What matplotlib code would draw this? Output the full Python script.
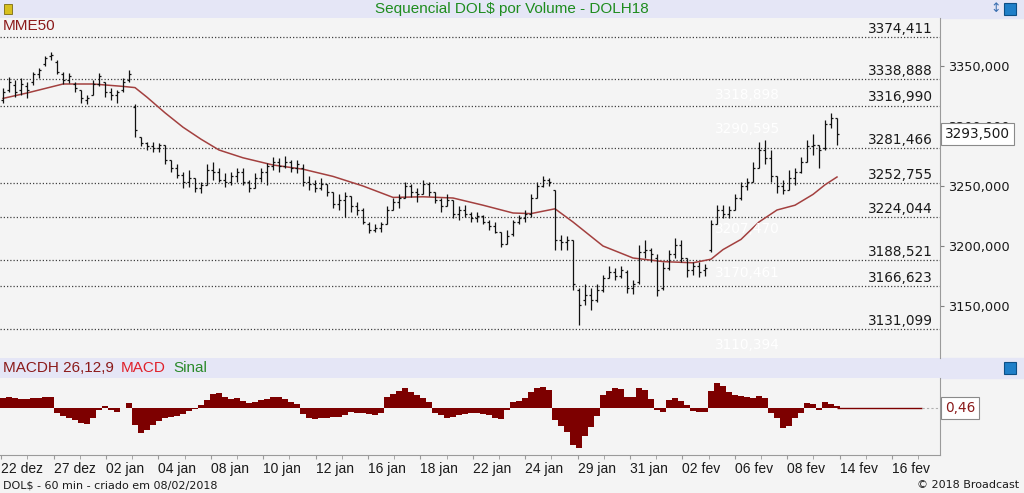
import matplotlib.pyplot as plt
import matplotlib.transforms as mtransforms
from matplotlib.patches import Rectangle
import numpy as np

W, H = 1024, 493

# DOLH18 - 60 min bars (sequential)
opens = [3322, 3330, 3334, 3330, 3333, 3337, 3343, 3352, 3358, 3353,
         3343, 3338, 3335, 3330, 3322, 3326, 3335, 3337, 3328, 3326,
         3330, 3338, 3316, 3291, 3286, 3283, 3282, 3284, 3272, 3265,
         3259, 3253, 3257, 3248, 3251, 3263, 3262, 3255, 3253, 3258,
         3262, 3253, 3248, 3257, 3262, 3267, 3270, 3267, 3270, 3265,
         3265, 3253, 3252, 3248, 3252, 3245, 3235, 3238, 3242, 3233,
         3230, 3218, 3213, 3215, 3218, 3230, 3237, 3240, 3250, 3245,
         3243, 3252, 3245, 3238, 3233, 3238, 3227, 3230, 3227, 3223,
         3225, 3220, 3217, 3212, 3202, 3210, 3220, 3223, 3227, 3240,
         3250, 3255, 3247, 3205, 3203, 3205, 3163, 3155, 3159, 3155,
         3163, 3173, 3178, 3175, 3178, 3165, 3170, 3195, 3197, 3190,
         3165, 3182, 3193, 3201, 3190, 3180, 3183, 3180, 3197, 3218,
         3230, 3227, 3230, 3240, 3250, 3253, 3265, 3280, 3273, 3258,
         3250, 3247, 3257, 3262, 3270, 3283, 3284, 3282, 3302, 3307]
highs = [3332, 3341, 3338, 3340, 3337, 3345, 3348, 3358, 3362, 3355,
         3345, 3344, 3337, 3330, 3326, 3338, 3344, 3337, 3332, 3330,
         3340, 3347, 3318, 3291, 3287, 3287, 3286, 3284, 3272, 3268,
         3262, 3263, 3257, 3253, 3268, 3270, 3265, 3261, 3262, 3265,
         3265, 3255, 3261, 3265, 3269, 3274, 3273, 3275, 3272, 3272,
         3268, 3258, 3255, 3257, 3252, 3245, 3243, 3245, 3242, 3237,
         3232, 3220, 3218, 3220, 3233, 3240, 3243, 3253, 3252, 3248,
         3255, 3253, 3245, 3240, 3243, 3238, 3233, 3234, 3228, 3228,
         3226, 3222, 3220, 3212, 3213, 3222, 3226, 3230, 3243, 3253,
         3258, 3257, 3247, 3209, 3208, 3205, 3165, 3168, 3165, 3168,
         3176, 3183, 3182, 3183, 3180, 3172, 3201, 3205, 3198, 3193,
         3187, 3197, 3207, 3205, 3190, 3187, 3187, 3185, 3222, 3234,
         3234, 3233, 3243, 3253, 3257, 3270, 3287, 3288, 3280, 3258,
         3255, 3263, 3265, 3274, 3288, 3293, 3284, 3305, 3311, 3307]
lows = [3319, 3328, 3324, 3326, 3323, 3334, 3340, 3350, 3355, 3343,
        3335, 3336, 3328, 3319, 3318, 3326, 3333, 3324, 3322, 3319,
        3328, 3337, 3291, 3283, 3280, 3278, 3278, 3268, 3262, 3257,
        3248, 3249, 3245, 3244, 3251, 3255, 3253, 3249, 3251, 3253,
        3251, 3245, 3248, 3253, 3251, 3263, 3262, 3265, 3262, 3261,
        3250, 3247, 3245, 3247, 3242, 3232, 3230, 3224, 3228, 3226,
        3218, 3211, 3212, 3212, 3218, 3230, 3232, 3240, 3241, 3237,
        3243, 3242, 3236, 3228, 3233, 3223, 3222, 3224, 3220, 3220,
        3218, 3213, 3211, 3199, 3202, 3208, 3218, 3220, 3224, 3240,
        3249, 3250, 3197, 3197, 3197, 3163, 3134, 3151, 3147, 3153,
        3162, 3173, 3172, 3173, 3161, 3160, 3168, 3190, 3187, 3158,
        3163, 3180, 3190, 3187, 3174, 3176, 3174, 3175, 3195, 3218,
        3223, 3223, 3230, 3238, 3247, 3253, 3265, 3268, 3253, 3244,
        3243, 3247, 3251, 3261, 3270, 3276, 3265, 3280, 3298, 3284]
closes = [3328, 3337, 3328, 3335, 3330, 3343, 3347, 3357, 3359, 3345,
          3338, 3342, 3332, 3323, 3323, 3335, 3342, 3328, 3326, 3328,
          3337, 3343, 3297, 3286, 3283, 3282, 3284, 3272, 3265, 3259,
          3253, 3257, 3248, 3251, 3263, 3262, 3255, 3253, 3258, 3262,
          3253, 3248, 3257, 3262, 3267, 3270, 3267, 3270, 3265, 3268,
          3253, 3252, 3248, 3252, 3245, 3235, 3238, 3242, 3233, 3230,
          3220, 3213, 3215, 3218, 3230, 3237, 3240, 3250, 3245, 3243,
          3252, 3245, 3238, 3233, 3238, 3227, 3230, 3227, 3223, 3225,
          3220, 3217, 3212, 3202, 3208, 3220, 3223, 3227, 3240, 3250,
          3255, 3253, 3205, 3203, 3205, 3168, 3151, 3159, 3155, 3163,
          3173, 3178, 3175, 3180, 3165, 3168, 3195, 3197, 3193, 3163,
          3182, 3193, 3201, 3190, 3180, 3183, 3178, 3182, 3218, 3230,
          3227, 3230, 3240, 3250, 3253, 3265, 3280, 3273, 3258, 3250,
          3247, 3257, 3262, 3270, 3283, 3284, 3280, 3302, 3307, 3293.5]

# MME50 read at a subset of bars
ma_idx = [0, 4, 6, 8, 10, 15, 20, 22, 24, 27, 30, 33, 36, 40, 45, 50, 55, 60, 65, 70,
          75, 80, 85, 88, 92, 95, 100, 105, 110, 115, 118, 120, 123, 126, 129, 132, 135, 137, 139]
ma_vals = [3323, 3327.5, 3330, 3332.5, 3335, 3335, 3333, 3332, 3324, 3311,
           3299, 3289, 3280, 3273.5, 3267.5, 3264, 3258, 3250, 3240.5, 3241,
           3240, 3234, 3227.5, 3227, 3231, 3220, 3200, 3190, 3187, 3186,
           3189, 3197, 3205.5, 3220, 3230, 3234, 3243, 3251, 3257.5]

# MACD histogram (26,12,9)
macdh = [4.0, 4.4, 4.0, 3.6, 3.6, 4.0, 4.0, 4.4, 4.4, -2.0,
         -3.2, -4.0, -4.8, -6.0, -6.4, -4.0, -0.8, 0.8, -0.8, -1.6,
         0.0, 2.0, -6.8, -10.0, -8.8, -6.8, -5.2, -4.0, -3.6, -3.2,
         -2.4, -1.2, -0.4, 1.2, 3.2, 5.6, 6.0, 4.4, 3.6, 4.0,
         2.8, 2.0, 2.4, 3.2, 3.6, 4.4, 4.4, 3.6, 2.4, 1.6,
         -2.4, -4.0, -4.4, -4.0, -4.0, -3.6, -3.6, -2.8, -1.6, -2.0,
         -2.0, -2.4, -2.8, -2.0, 4.4, 5.6, 6.8, 8.0, 6.4, 5.2,
         4.0, 2.4, -2.0, -2.8, -4.0, -3.6, -2.8, -2.4, -2.0, -2.0,
         -2.4, -2.8, -4.0, -4.4, -0.8, 2.4, 2.8, 4.0, 6.4, 8.0,
         8.4, 7.2, -4.8, -7.2, -9.6, -14.8, -16.0, -11.2, -7.6, -3.2,
         5.2, 6.8, 8.0, 7.6, 4.4, 4.4, 8.0, 7.2, 3.6, -0.8,
         -1.6, 3.2, 4.0, 2.8, 1.2, -1.2, -1.6, -1.6, 6.8, 10.0,
         8.8, 6.4, 5.2, 4.8, 4.4, 4.0, 4.8, 4.0, -2.0, -4.0,
         -8.0, -7.2, -4.0, -2.0, 2.0, 1.6, -0.8, 2.4, 1.6, 0.8]

fib_levels = [3374.411, 3338.888, 3316.990, 3281.466, 3252.755, 3224.044, 3188.521, 3166.623, 3131.099]
fib_labels = ["3374,411", "3338,888", "3316,990", "3281,466", "3252,755",
              "3224,044", "3188,521", "3166,623", "3131,099"]
ghost_levels = [3318.898, 3290.595, 3207.470, 3170.461, 3110.394]
ghost_labels = ["3318,898", "3290,595", "3207,470", "3170,461", "3110,394"]

price_ticks = [3150, 3200, 3250, 3300, 3350]
price_tick_labels = ["3150,000", "3200,000", "3250,000", "3300,000", "3350,000"]
last_price_label = "3293,500"
last_macd_label = "0,46"

date_labels = ["22 dez", "27 dez", "02 jan", "04 jan", "08 jan", "10 jan", "12 jan", "16 jan", "18 jan",
               "22 jan", "24 jan", "29 jan", "31 jan", "02 fev", "06 fev", "08 fev", "14 fev", "16 fev"]

BG = '#f4f4f4'
BAR = '#e5e6f6'
DARKRED = '#8b1a1a'


def fy(py):
    return 1 - py / H


def px_to_idx(px):
    return (px - 3) / 6.0


fig = plt.figure(figsize=(W / 100, H / 100), dpi=100, facecolor=BG)

# header bars
fig.add_artist(Rectangle((0, fy(18)), 1, 18 / H, transform=fig.transFigure, color=BAR, zorder=0))
fig.add_artist(Rectangle((0, fy(378)), 1, 20 / H, transform=fig.transFigure, color=BAR, zorder=0))
fig.text(512 / W, fy(9), "Sequencial DOL$ por Volume - DOLH18", ha='center', va='center',
         color='#1e8c1e', fontsize=11, family='Liberation Sans')
fig.add_artist(Rectangle((1004 / W, fy(15)), 12 / W, 12 / H, transform=fig.transFigure,
                         fc='#1f7fc8', ec='#0c4f86', lw=0.8, zorder=3))
fig.add_artist(Rectangle((1004 / W, fy(374)), 12 / W, 12 / H, transform=fig.transFigure,
                         fc='#1f7fc8', ec='#0c4f86', lw=0.8, zorder=3))
fig.text(996 / W, fy(9), "\u2195", ha='center', va='center', color='#3a6fb0', fontsize=9)
fig.add_artist(Rectangle((4 / W, fy(14)), 8 / W, 10 / H, transform=fig.transFigure,
                         fc='#d8c020', ec='#7a6a10', lw=0.6, zorder=3))

# ---- price panel
ax = fig.add_axes([0, fy(358), 940 / W, 340 / H])
ax.set_facecolor(BG)
idx = np.arange(len(closes))
ax.set_xlim(px_to_idx(0), px_to_idx(940))
ax.set_ylim(3405 - 358 / 1.2, 3405 - 18 / 1.2)

for lvl in fib_levels:
    ax.axhline(lvl, color='#404040', lw=0.9, ls=(0, (1, 1.6)), zorder=1)
blend = mtransforms.blended_transform_factory(ax.transAxes, ax.transData)
for lvl, lab in zip(fib_levels, fib_labels):
    ax.annotate(lab, xy=(933 / 940, lvl), xycoords=blend, xytext=(0, 3), textcoords='offset points',
                ha='right', va='baseline', fontsize=9.8, color='#1a1a1a', family='DejaVu Sans')
for lvl, lab in zip(ghost_levels, ghost_labels):
    ax.annotate(lab, xy=(715 / 940, lvl), xycoords=blend, xytext=(0, 3), textcoords='offset points',
                ha='left', va='baseline', fontsize=9.8, color='white', family='DejaVu Sans')

ax.vlines(idx, lows, highs, color='#111111', lw=0.9, zorder=3)
ax.hlines(opens, idx - 0.38, idx, color='#111111', lw=0.9, zorder=3)
ax.hlines(closes, idx, idx + 0.38, color='#111111', lw=0.9, zorder=3)
ax.plot(ma_idx, ma_vals, color='#a3403f', lw=1.1, zorder=2)

ax.text(3 / 940, fy(26) * 0 + (1 - 8 / 340), "MME50", transform=ax.transAxes, ha='left', va='center',
        fontsize=11, color=DARKRED, family='Liberation Sans')

ax.yaxis.tick_right()
ax.set_yticks(price_ticks)
ax.set_yticklabels(price_tick_labels)
ax.tick_params(axis='y', direction='out', length=3, pad=3, labelsize=9.3, colors='#808080',
               labelcolor='#1a1a1a')
ax.set_xticks([])
for s in ['top', 'left', 'bottom']:
    ax.spines[s].set_visible(False)
ax.spines['right'].set_color('#9a9a9a')
for t in ax.get_yticklabels():
    t.set_family('DejaVu Sans')

ax.text(1 + 5 / 940, closes[-1], last_price_label, transform=blend, ha='left', va='center',
        fontsize=9.8, color='#1a1a1a', family='DejaVu Sans', zorder=10,
        bbox=dict(boxstyle='square,pad=0.3', fc='white', ec='#8a8a8a', lw=0.8), clip_on=False)

# ---- MACD panel
fig.text(3 / W, fy(368), "MACDH 26,12,9", ha='left', va='center', fontsize=11, color=DARKRED,
         family='Liberation Sans')
fig.text(121 / W, fy(368), "MACD", ha='left', va='center', fontsize=11, color='#e0202a',
         family='Liberation Sans')
fig.text(173 / W, fy(368), "Sinal", ha='left', va='center', fontsize=11, color='#2a8a2a',
         family='Liberation Sans')

ax2 = fig.add_axes([0, fy(455), 940 / W, 77 / H])
ax2.set_facecolor(BG)
ax2.set_xlim(px_to_idx(0), px_to_idx(940))
ax2.set_ylim(-18.8, 12)
ax2.bar(idx, macdh, width=1.0, color='#7d0000', lw=0, zorder=2)
ax2.hlines(0, idx[-1], px_to_idx(922), color='#7d0000', lw=1.0, zorder=2)
ax2.plot([px_to_idx(922), px_to_idx(944)], [0, 0], color='#b0b0b0', lw=0.8, ls=(0, (2, 2)),
         clip_on=False)
blend2 = mtransforms.blended_transform_factory(ax2.transAxes, ax2.transData)
ax2.text(1 + 5 / 940, 0, last_macd_label, transform=blend2, ha='left', va='center',
         fontsize=9.8, color=DARKRED, family='DejaVu Sans',
         bbox=dict(boxstyle='square,pad=0.3', fc='white', ec='#8a8a8a', lw=0.8), clip_on=False)

major = [px_to_idx(1.2 + 52.4 * k) for k in range(len(date_labels))]
minor = [px_to_idx(1.2 + 26.2 * j) for j in range(2 * len(date_labels))]
ax2.set_xticks(minor, minor=True)
ax2.set_xticks(major)
ax2.set_xticklabels(date_labels)
ax2.tick_params(axis='x', which='both', direction='out', length=3, colors='#9a9a9a',
                labelcolor='#1a1a1a', labelsize=10, pad=2)
for t in ax2.get_xticklabels():
    t.set_family('Liberation Sans')
    t.set_ha('left')
ax2.set_yticks([])
for s in ['top', 'left']:
    ax2.spines[s].set_visible(False)
ax2.spines['right'].set_color('#9a9a9a')
ax2.spines['bottom'].set_color('#9a9a9a')

fig.text(3 / W, fy(485), "DOL$ - 60 min - criado em 08/02/2018", ha='left', va='center',
         fontsize=8, color='#1a1a1a', family='DejaVu Sans')
fig.text(1019 / W, fy(485), "\u00a9 2018 Broadcast", ha='right', va='center',
         fontsize=8, color='#1a1a1a', family='DejaVu Sans')

fig.savefig("out.png", dpi=100, facecolor=BG)
